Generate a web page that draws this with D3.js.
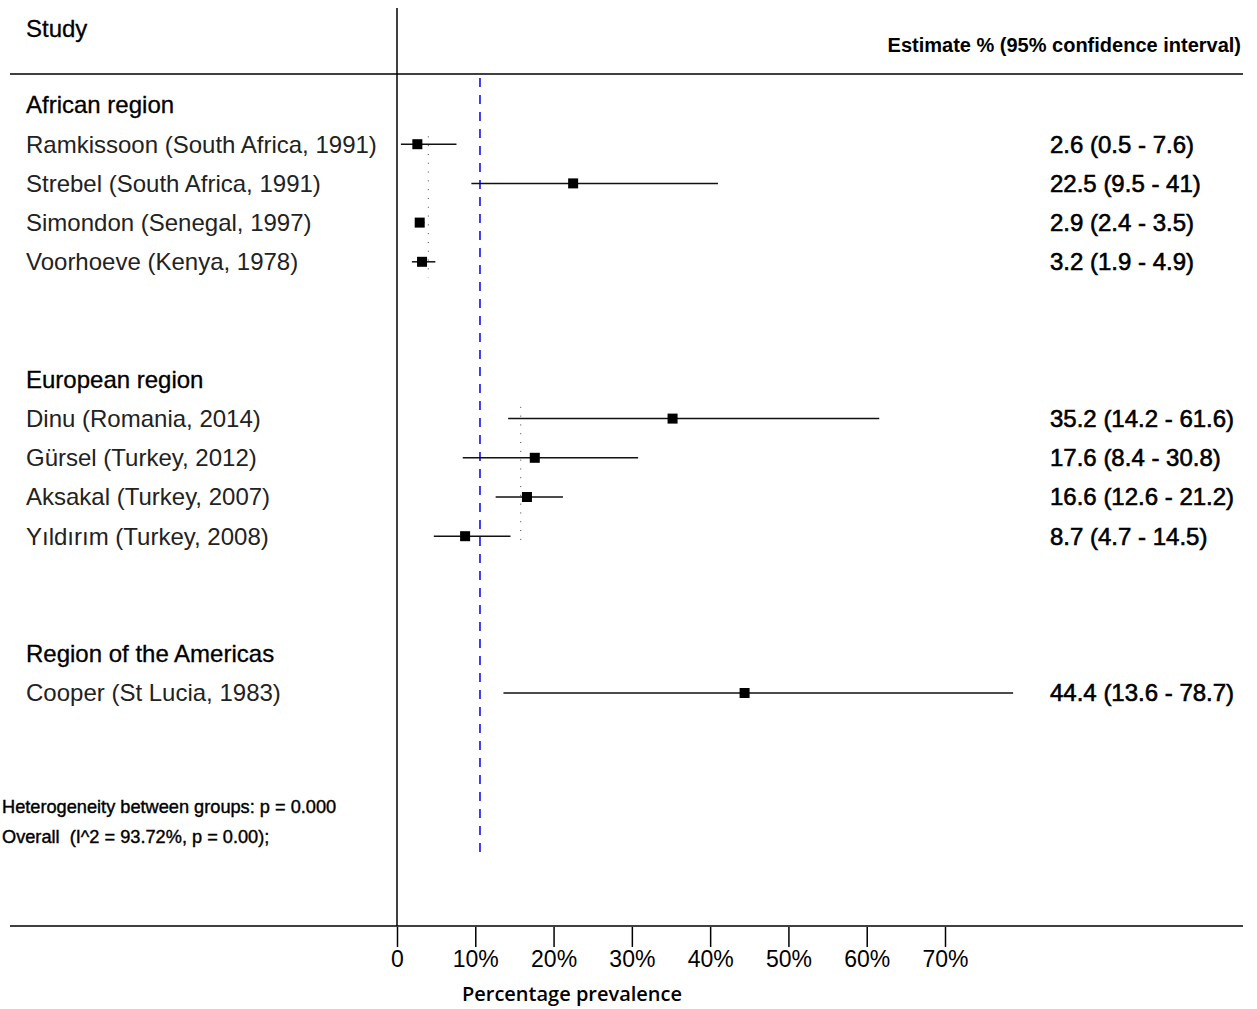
<!DOCTYPE html>
<html>
<head>
<meta charset="utf-8">
<script src="https://cdn.jsdelivr.net/npm/d3@7"></script>
<style>
  body { margin: 0; background: #fff; }
  svg { display: block; }
  text { font-family: "Liberation Sans", Arial, Helvetica, sans-serif; fill: #000; }
</style>
</head>
<body>
<svg width="1257" height="1009"></svg>
<script>
// groups and their heading rows
var groups = ["African region", "European region", "Region of the Americas"];
var groupRows = [0, 7, 14];
var groupPooled = [4.0, 15.8];          // subgroup pooled estimate (dotted lines)
var groupPooledRows = [[0.8, 4.4], [7.7, 11.1]];
var overall = 10.6;

var studies = [
  "Ramkissoon (South Africa, 1991)",
  "Strebel (South Africa, 1991)",
  "Simondon (Senegal, 1997)",
  "Voorhoeve (Kenya, 1978)",
  "Dinu (Romania, 2014)",
  "Gürsel (Turkey, 2012)",
  "Aksakal (Turkey, 2007)",
  "Yıldırım (Turkey, 2008)",
  "Cooper (St Lucia, 1983)"
];
var studyRows = [1, 2, 3, 4, 8, 9, 10, 11, 15];
var est = [2.6, 22.5, 2.9, 3.2, 35.2, 17.6, 16.6, 8.7, 44.4];
var lo  = [0.5, 9.5, 2.4, 1.9, 14.2, 8.4, 12.6, 4.7, 13.6];
var hi  = [7.6, 41, 3.5, 4.9, 61.6, 30.8, 21.2, 14.5, 78.7];
var ciLabels = [
  "2.6 (0.5 - 7.6)", "22.5 (9.5 - 41)", "2.9 (2.4 - 3.5)", "3.2 (1.9 - 4.9)",
  "35.2 (14.2 - 61.6)", "17.6 (8.4 - 30.8)", "16.6 (12.6 - 21.2)", "8.7 (4.7 - 14.5)",
  "44.4 (13.6 - 78.7)"
];
var xTicks = [0, 10, 20, 30, 40, 50, 60, 70];

var svg = d3.select("svg");

var x = d3.scaleLinear().domain([0, 70]).range([397, 945]);
var y = d3.scaleLinear().domain([0, 1]).range([105, 144.2]);

// frame lines
svg.append("line").attr("x1", 10).attr("x2", 1243).attr("y1", 74).attr("y2", 74)
  .attr("stroke", "#000").attr("stroke-width", 1.5);
svg.append("line").attr("x1", 10).attr("x2", 1243).attr("y1", 926).attr("y2", 926)
  .attr("stroke", "#000").attr("stroke-width", 1.5);
svg.append("line").attr("x1", x(0)).attr("x2", x(0)).attr("y1", 8).attr("y2", 926)
  .attr("stroke", "#000").attr("stroke-width", 1.5);

// headers
svg.append("text").attr("x", 26).attr("y", 37).style("font-size", "24px")
  .style("stroke", "#000").style("stroke-width", 0.3).text("Study");
svg.append("text").attr("x", 1241).attr("y", 52).attr("text-anchor", "end")
  .style("font-size", "20px").style("font-weight", "bold")
  .text("Estimate % (95% confidence interval)");

// overall (blue dashed)
svg.append("line").attr("x1", x(overall)).attr("x2", x(overall))
  .attr("y1", 78).attr("y2", 859)
  .attr("stroke", "#0000ee").attr("stroke-width", 1.5).attr("stroke-dasharray", "9,8");

// subgroup pooled dotted lines
svg.selectAll(".pooled").data(groupPooled).enter().append("line")
  .attr("class", "pooled")
  .attr("x1", function(d) { return x(d); })
  .attr("x2", function(d) { return x(d); })
  .attr("y1", function(d, i) { return y(groupPooledRows[i][0]); })
  .attr("y2", function(d, i) { return y(groupPooledRows[i][1]); })
  .attr("stroke", "#444").attr("stroke-width", 1).attr("stroke-dasharray", "1,7.8");

// group headings
svg.selectAll(".grp").data(groups).enter().append("text")
  .attr("class", "grp")
  .attr("x", 26)
  .attr("y", function(d, i) { return y(groupRows[i]); })
  .attr("dy", "0.35em")
  .style("font-size", "24px")
  .style("stroke", "#000").style("stroke-width", 0.3)
  .text(function(d) { return d; });

// study labels
svg.selectAll(".lab").data(studies).enter().append("text")
  .attr("class", "lab")
  .attr("x", 26)
  .attr("y", function(d, i) { return y(studyRows[i]); })
  .attr("dy", "0.35em")
  .style("font-size", "24px")
  .style("fill", "#222")
  .text(function(d) { return d; });

// CI lines
svg.selectAll(".ci").data(studies).enter().append("line")
  .attr("class", "ci")
  .attr("x1", function(d, i) { return x(lo[i]); })
  .attr("x2", function(d, i) { return x(hi[i]); })
  .attr("y1", function(d, i) { return y(studyRows[i]); })
  .attr("y2", function(d, i) { return y(studyRows[i]); })
  .attr("stroke", "#111").attr("stroke-width", 1.5);

// point squares
svg.selectAll(".pt").data(studies).enter().append("rect")
  .attr("class", "pt")
  .attr("x", function(d, i) { return x(est[i]) - 5; })
  .attr("y", function(d, i) { return y(studyRows[i]) - 5; })
  .attr("width", 10).attr("height", 10)
  .attr("fill", "#000");

// estimate text
svg.selectAll(".est").data(ciLabels).enter().append("text")
  .attr("class", "est")
  .attr("x", 1050)
  .attr("y", function(d, i) { return y(studyRows[i]); })
  .attr("dy", "0.35em")
  .style("font-size", "24px")
  .style("stroke", "#000").style("stroke-width", 0.6)
  .text(function(d) { return d; });

// footnotes
svg.append("text").attr("x", 2).attr("y", 807).attr("dy", "0.35em")
  .style("font-size", "18.2px")
  .style("stroke", "#000").style("stroke-width", 0.4)
  .text("Heterogeneity between groups: p = 0.000");
svg.append("text").attr("x", 2).attr("y", 837).attr("dy", "0.35em")
  .style("font-size", "18.2px").style("white-space", "pre")
  .style("stroke", "#000").style("stroke-width", 0.4)
  .text("Overall  (I^2 = 93.72%, p = 0.00);");

// x axis
var xAxis = d3.axisBottom(x)
  .tickValues(xTicks)
  .tickSize(20)
  .tickPadding(4)
  .tickFormat(function(d) { return d === 0 ? "0" : d + "%"; });

var gx = svg.append("g").attr("transform", "translate(0,927)").call(xAxis);
gx.select(".domain").remove();
gx.selectAll(".tick line").attr("stroke", "#000").attr("stroke-width", 1.5);
gx.selectAll(".tick text")
  .style("font-family", "'Liberation Sans', Arial, sans-serif")
  .style("font-size", "23px")
  .attr("fill", "#000");

svg.append("text").attr("x", 572).attr("y", 1001).attr("text-anchor", "middle")
  .style("font-family", "'Open Sans', sans-serif")
  .style("font-size", "20px").style("font-weight", "600")
  .text("Percentage prevalence");
</script>
</body>
</html>
